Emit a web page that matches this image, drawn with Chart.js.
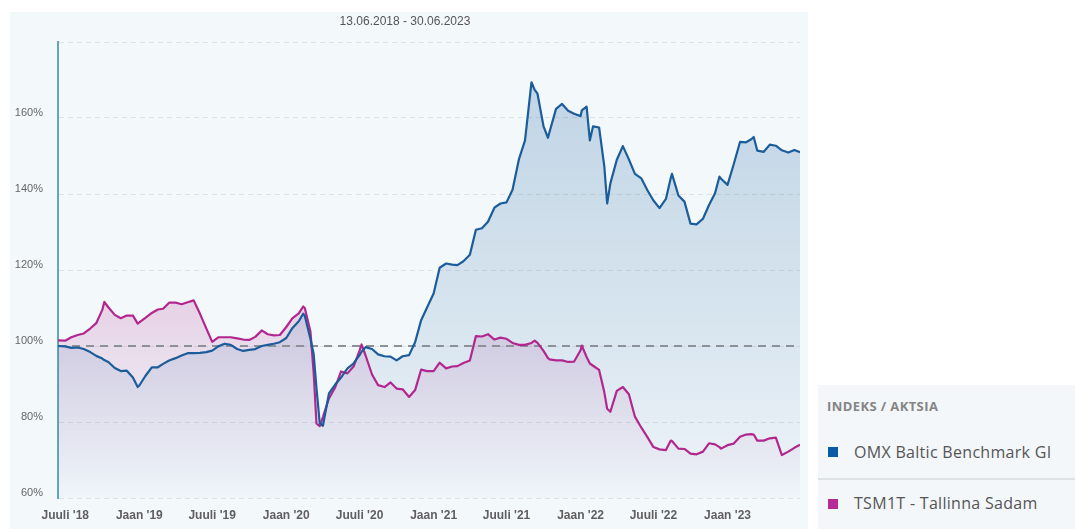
<!DOCTYPE html>
<html><head><meta charset="utf-8">
<script src="https://cdn.jsdelivr.net/npm/chart.js@4.4.0/dist/chart.umd.min.js"></script>
<style>
html,body{margin:0;padding:0;background:#fff;width:1075px;height:529px;overflow:hidden;}
#panel{position:absolute;left:10px;top:12px;width:798px;height:517px;background:#f3f8fb;}
#legend{position:absolute;left:818px;top:385px;width:257px;height:144px;background:#f3f7fa;font-family:"Open Sans",sans-serif;}
#legend .hdr{position:absolute;left:9px;top:12px;font-size:13px;font-weight:700;color:#858585;line-height:18px;letter-spacing:0.4px;}
#legend .sq{position:absolute;left:10px;width:10px;height:10px;}
#legend .txt{position:absolute;left:36px;font-size:16px;color:#555;line-height:20px;white-space:nowrap;letter-spacing:0.3px;}
#legend .sep{position:absolute;left:0;top:93px;width:257px;height:2px;background:#dde2e6;}
</style></head>
<body>
<div id="panel"><canvas id="c"></canvas></div>
<div id="legend">
  <div class="hdr">INDEKS / AKTSIA</div>
  <div class="sq" style="top:62px;background:#0b5aa5"></div>
  <div class="txt" style="top:57px">OMX Baltic Benchmark GI</div>
  <div class="sep"></div>
  <div class="sq" style="top:114px;background:#b42a98"></div>
  <div class="txt" style="top:108px">TSM1T - Tallinna Sadam</div>
</div>
<script>
const dates = ['2018-06-13','2018-07-01','2018-07-16','2018-08-01','2018-08-16','2018-09-01','2018-09-16','2018-10-01','2018-10-06','2018-10-16','2018-11-01','2018-11-16','2018-12-01','2018-12-16','2018-12-28',
'2019-01-01','2019-01-16','2019-02-01','2019-02-16','2019-03-01','2019-03-16','2019-04-01','2019-04-16','2019-05-01','2019-05-16','2019-06-01','2019-06-16','2019-07-01','2019-07-16','2019-08-01','2019-08-16','2019-09-01','2019-09-16','2019-10-01','2019-10-16','2019-11-01','2019-11-16','2019-12-01','2019-12-16',
'2020-01-01','2020-01-16','2020-02-01','2020-02-12','2020-02-16','2020-03-01','2020-03-09','2020-03-16','2020-03-24','2020-04-01','2020-04-16','2020-05-01','2020-05-16','2020-06-01','2020-06-16','2020-07-01','2020-07-06','2020-07-16','2020-08-01','2020-08-16','2020-09-01','2020-09-16','2020-10-01','2020-10-16','2020-11-01','2020-11-16','2020-12-01','2020-12-16',
'2021-01-01','2021-01-16','2021-02-01','2021-02-16','2021-03-01','2021-03-16','2021-04-01','2021-04-16','2021-05-01','2021-05-16','2021-06-01','2021-06-16','2021-07-01','2021-07-16','2021-08-01','2021-08-16','2021-09-01','2021-09-09','2021-09-16','2021-10-01','2021-10-12','2021-10-16','2021-11-01','2021-11-16','2021-12-01','2021-12-16',
'2022-01-01','2022-01-04','2022-01-16','2022-01-24','2022-02-01','2022-02-16','2022-03-01','2022-03-08','2022-03-16','2022-04-01','2022-04-16','2022-05-01','2022-05-16','2022-06-01','2022-06-16','2022-07-01','2022-07-16','2022-08-01','2022-08-13','2022-08-16','2022-09-01','2022-09-16','2022-10-01','2022-10-16','2022-11-01','2022-11-16','2022-12-01','2022-12-12','2022-12-16',
'2023-01-01','2023-01-16','2023-02-01','2023-02-16','2023-03-01','2023-03-07','2023-03-16','2023-04-01','2023-04-16','2023-05-01','2023-05-16','2023-06-01','2023-06-16','2023-06-30'];

const omxBaltic = [100,99.9,99.5,99.6,99.2,98.4,97.4,96.7,96.3,95.8,94.2,93.4,93.5,91.7,89.2,
89.6,92.1,94.4,94.4,95.3,96.2,96.8,97.5,98.1,98.1,98.2,98.4,98.8,99.9,100.6,100.3,99.2,98.7,99,99.2,100,100.3,100.6,101,
102.1,104.7,106.5,108.5,107.9,101.9,97.9,88.9,79.7,79,87.5,89.8,91.7,94.1,95.4,97.6,98.5,99.7,99.2,97.8,97.3,97.2,96.2,97.3,97.6,101,106.8,110.2,
113.8,120.6,121.7,121.4,121.3,122.3,124,130.6,131,132.7,136.4,137.5,137.8,141.1,149.2,154.1,169.4,167.4,166.4,157.8,154.8,156.4,162.4,163.7,161.9,161.1,
160.5,162,163,154.1,157.8,157.5,147.2,137.5,142.8,149,152.6,149.1,145.3,144.1,141,138.3,136.3,138.7,144.2,145.3,139.6,138,132.2,132,133.5,137.1,140.2,144.6,144,
142.4,147.7,153.7,153.6,154.4,155,151.4,151.1,153,152.7,151.5,150.9,151.6,151];

const tallinnaSadam = [101.5,101.4,102.3,102.9,103.3,104.6,106,109.5,111.6,110.2,108.2,107.3,108,108,105.9,
106.2,107.4,108.7,109.6,109.8,111.4,111.4,111,111.5,112,108.4,104.7,101.1,102.3,102.3,102.3,102,101.7,101.6,102.4,104.1,103.1,102.8,102.9,
105,107.3,108.6,110.4,110,103.8,93,79.6,78.9,81.3,86.2,89,93.3,92.8,94.6,98.8,100.4,97.5,92.5,89.7,89.2,90.4,88.8,88.6,86.6,88.4,93.8,93.4,
93.4,95.6,94.1,94.6,94.7,95.5,96.2,102.6,102.5,103.1,101.7,102.2,101.9,100.8,100.3,100.3,100.8,101.4,100.8,98.7,96.8,96.5,96.2,96.2,95.8,95.9,
98.9,100.1,97.1,95.4,94.8,93.7,87.8,83.5,82.7,88.2,89.2,87.3,81.4,78.5,76,73.4,72.8,72.6,75.1,75,73,72.9,71.7,71.5,72.2,74.4,74.1,73.4,73,
73.9,74.3,76.1,76.7,76.8,76.7,75.1,75.1,75.7,75.9,71.3,72.2,73.2,74];

const baseLevel = [100, 100];
const tickDates = ['2018-07-01','2019-01-01','2019-07-01','2020-01-01','2020-07-01','2021-01-01','2021-07-01','2022-01-01','2022-07-01','2023-01-01'];
const tickLabels = ["Juuli '18","Jaan '19","Juuli '19","Jaan '20","Juuli '20","Jaan '21","Juuli '21","Jaan '22","Juuli '22","Jaan '23"];
const yTicks = [60, 80, 100, 120, 140, 160, 180];
const titleText = '13.06.2018 - 30.06.2023';

const ts = d => { const p = d.split('-').map(Number); return Date.UTC(p[0], p[1]-1, p[2]); };
const xMin = ts(dates[0]), xMax = ts(dates[dates.length-1]);

function grad(ctx, stops) {
  const chart = ctx.chart; const a = chart.chartArea;
  if (!a) return 'rgba(0,0,0,0)';
  const g = chart.ctx.createLinearGradient(0, a.top, 0, a.bottom);
  stops.forEach(s => g.addColorStop(s[0], s[1]));
  return g;
}

const canvas = document.getElementById('c');
canvas.width = 798; canvas.height = 517;

new Chart(canvas, {
  type: 'line',
  data: {
    datasets: [
      {
        label: 'OMX Baltic Benchmark GI',
        data: dates.map((d, i) => ({x: ts(d), y: omxBaltic[i]})),
        borderColor: '#1b5c9b', borderWidth: 2.2, pointRadius: 0, tension: 0, borderJoinStyle: 'round',
        fill: 'start',
        backgroundColor: ctx => grad(ctx, [[0, 'rgba(45,110,165,0.27)'], [0.6, 'rgba(45,110,165,0.14)'], [1, 'rgba(45,110,165,0.02)']])
      },
      {
        label: 'TSM1T - Tallinna Sadam',
        data: dates.map((d, i) => ({x: ts(d), y: tallinnaSadam[i]})),
        borderColor: '#b1278f', borderWidth: 2.2, pointRadius: 0, tension: 0, borderJoinStyle: 'round',
        fill: 'start',
        backgroundColor: ctx => grad(ctx, [[0.45, 'rgba(175,45,140,0.24)'], [0.75, 'rgba(175,45,140,0.1)'], [1, 'rgba(175,45,140,0.0)']])
      },
      {
        label: 'base',
        data: [{x: xMin, y: baseLevel[0]}, {x: xMax, y: baseLevel[1]}],
        borderColor: '#8c9197', borderWidth: 2, borderDash: [8, 6], pointRadius: 0, fill: false
      }
    ]
  },
  options: {
    responsive: false, animation: false,
    layout: { padding: { right: 8, top: 0, bottom: 0, left: 0 } },
    plugins: {
      legend: { display: false }, tooltip: { enabled: false },
      filler: { drawTime: 'beforeDatasetsDraw' },
      title: { display: true, text: titleText, color: '#555', font: { family: 'Liberation Sans', size: 12, weight: 'normal' }, padding: { top: 2, bottom: 13.6 } }
    },
    scales: {
      x: {
        type: 'linear', min: xMin, max: xMax,
        afterBuildTicks: s => { s.ticks = tickDates.map(d => ({ value: ts(d) })); },
        afterFit: s => { s.height = 31; },
        grid: { display: false, drawTicks: false },
        border: { display: false },
        ticks: { autoSkip: false, maxRotation: 0, padding: 10, color: '#5f5f5f', font: { family: 'Liberation Sans', size: 12, weight: 'bold' },
          callback: (v, i) => tickLabels[i] }
      },
      y: {
        min: yTicks[0], max: yTicks[yTicks.length-1],
        afterBuildTicks: s => { s.ticks = yTicks.map(v => ({ value: v })); },
        afterFit: s => { s.width = 48; },
        grid: { color: '#dde2e7', lineWidth: 1, drawTicks: false },
        border: { display: true, color: '#62a8b6', width: 2, dash: [5, 4] },
        ticks: { padding: 15, labelOffset: -5, color: '#666', font: { family: 'Liberation Sans', size: 11 },
          callback: v => v === 180 ? '' : v + '%' }
      }
    }
  }
});
</script>
</body></html>
